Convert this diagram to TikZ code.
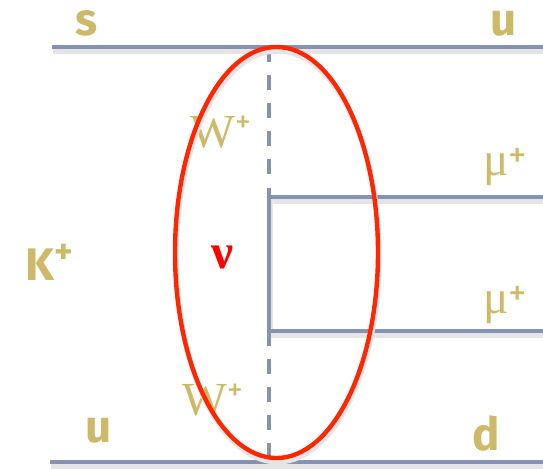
\documentclass[tikz,border=0pt]{standalone}
\usepackage{fontspec}
\setmainfont{Liberation Serif}
\newfontfamily\quarkfont{Fira Sans}
\definecolor{gold}{RGB}{206,185,104}
\definecolor{lineblue}{RGB}{133,146,181}
\definecolor{ringred}{RGB}{255,38,0}
\newcommand\chargeplus[3]{\raisebox{#2}{\quarkfont#3\fontsize{#1}{#1}\selectfont+}}
\tikzset{shade line/.style={preaction={draw=black!10,line width=3pt,transform canvas={shift={(0.6pt,-2.2pt)}}}}}

\begin{document}
\begin{tikzpicture}[x=0.02cm,y=-0.02cm,
  quark/.style={draw=lineblue,line width=2.3pt,shade line},
  wline/.style={draw=lineblue,line width=1.8pt,dash pattern=on 8.5pt off 7.5pt},
  qlabel/.style={text=gold,inner sep=0pt,anchor=base west,font=\quarkfont\bfseries\fontsize{26}{30}\selectfont},
  glabel/.style={text=gold,inner sep=0pt,anchor=base west,font=\fontsize{27}{30}\selectfont}]
\useasboundingbox(0,0)rectangle(543,468);
% quark lines and the lepton pair
\coordinate(sin)at(52,47);\coordinate(uout)at(543,47);\coordinate(uin)at(50,462);\coordinate(dout)at(543,462);
\coordinate(wt)at(269,47);\coordinate(nt)at(269,197);\coordinate(nb)at(269,331);\coordinate(wb)at(269,462);
\coordinate(mut)at(543,197);\coordinate(mub)at(543,331);
\draw[quark](sin)--(uout);\draw[quark](uin)--(dout);
\draw[quark](mut)--(nt)--(nb)--(mub);
\draw[wline](wt)--(nt);\draw[wline](nb)--(wb);
% labels
\node[qlabel](s)at(75,35){s};\node[qlabel](u1)at(490,35){u};
\node[qlabel](u2)at(85,442){u};\node[qlabel](d)at(472,450){d};
\node[qlabel](k)at(25,280){K\chargeplus{20}{9.5pt}{\bfseries}};
\node[glabel](mu1)at(483,175){μ\chargeplus{21}{4.5pt}{\mdseries}};\node[glabel](mu2)at(483,313){μ\chargeplus{21}{4.5pt}{\mdseries}};
\node[glabel](w1)at(190,147){W\chargeplus{18}{8.5pt}{\mdseries}};\node[glabel](w2)at(182,415){W\chargeplus{18}{8.5pt}{\mdseries}};
\node[inner sep=0pt,anchor=base west,text=red,font=\bfseries\fontsize{28}{30}\selectfont](nu)at(211,268){ν};
% the ring
\draw[draw=ringred,line width=2.5pt,shade line](276.5,252.5)ellipse(101.5 and 205.5);
\end{tikzpicture}
\end{document}
